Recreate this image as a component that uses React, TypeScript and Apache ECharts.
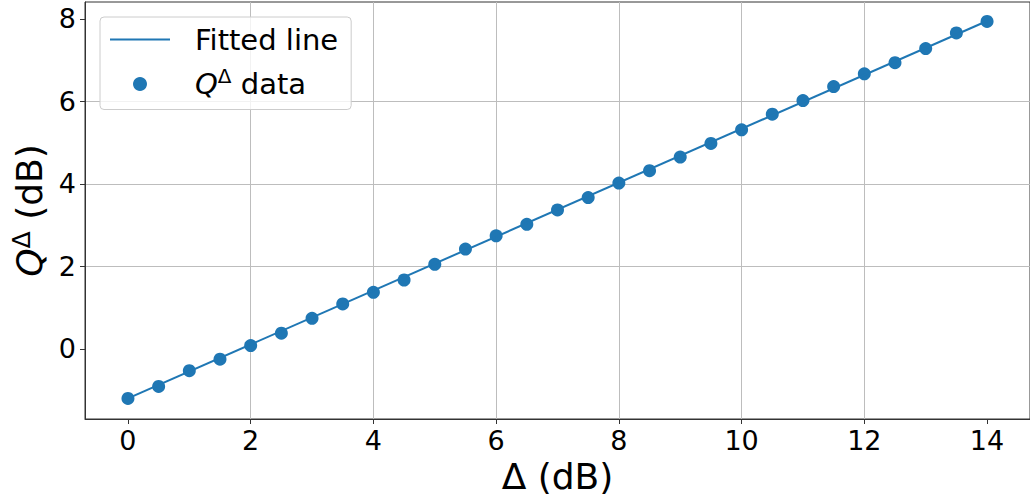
import React, { useEffect, useRef } from "react";
import * as echarts from "echarts";

const xValues = [0, 0.5, 1, 1.5, 2, 2.5, 3, 3.5, 4, 4.5, 5, 5.5, 6, 6.5, 7, 7.5, 8, 8.5, 9, 9.5, 10, 10.5, 11, 11.5, 12, 12.5, 13, 13.5, 14];
const qData = [-1.2, -0.91, -0.53, -0.25, 0.08, 0.38, 0.74, 1.09, 1.37, 1.67, 2.05, 2.42, 2.74, 3.02, 3.37, 3.67, 4.02, 4.32, 4.65, 4.98, 5.31, 5.69, 6.02, 6.36, 6.67, 6.94, 7.28, 7.66, 7.94];
const fitX = [0, 14];
const fitY = [-1.2, 7.95];
const xTicks = [0, 2, 4, 6, 8, 10, 12, 14];
const yTicks = [0, 2, 4, 6, 8];

const FONT = "DejaVu Sans";
const BLUE = "#1f77b4";
const FIT_NAME = "Fitted line";
const DATA_NAME = "QΔ data";

export default function App() {
  const ref = useRef<HTMLDivElement>(null);
  useEffect(() => {
    if (!ref.current) return;
    const chart = echarts.init(ref.current, null, { renderer: "svg" });
    const option: any = {
      animation: false,
      backgroundColor: "#ffffff",
      textStyle: { fontFamily: FONT },
      grid: {
        left: 85,
        top: 2,
        width: 949,
        height: 417,
        show: true,
        borderColor: "#333333",
        borderWidth: 1,
        backgroundColor: "transparent",
      },
      legend: {
        orient: "vertical",
        left: 100,
        top: 17,
        padding: [8, 13, 11, 10],
        itemWidth: 60,
        itemHeight: 14,
        itemGap: 12,
        backgroundColor: "rgba(255,255,255,0.8)",
        borderColor: "#cccccc",
        borderWidth: 1,
        borderRadius: 4,
        data: [
          { name: FIT_NAME, icon: "path://M0,0L60,0L60,2L0,2Z" },
          { name: DATA_NAME, icon: "circle" },
        ],
        formatter: (n: string) => (n === FIT_NAME ? "{n|Fitted line}" : "{i|Q}{s|Δ}{n| data}"),
        textStyle: {
          fontFamily: FONT,
          fontSize: 29,
          color: "#000",
          padding: [0, 0, 0, 20],
          rich: {
            n: { fontFamily: FONT, fontSize: 29, lineHeight: 36, color: "#000" },
            i: { fontFamily: FONT, fontSize: 29, lineHeight: 36, fontStyle: "italic", color: "#000" },
            s: { fontFamily: FONT, fontSize: 20, lineHeight: 24, verticalAlign: "top", color: "#000" },
          },
        },
      },
      xAxis: {
        type: "value",
        min: -0.7,
        max: 14.7,
        splitNumber: 8,
        name: "Δ (dB)",
        nameLocation: "middle",
        nameGap: 39,
        nameTextStyle: { fontFamily: FONT, fontSize: 36, color: "#000" },
        axisLine: { show: true, onZero: false, lineStyle: { color: "#333333", width: 1 } },
        axisTick: { show: true, customValues: xTicks, length: 5, lineStyle: { color: "#333333", width: 1 } },
        axisLabel: {
          customValues: xTicks,
          margin: 8,
          fontFamily: FONT,
          fontSize: 27,
          color: "#000",
          formatter: (v: number) => (xTicks.includes(v) ? String(v) : ""),
        },
        splitLine: { show: true, showMinLine: false, showMaxLine: false, lineStyle: { color: "#bdbdbd", width: 1 } },
      },
      yAxis: {
        type: "value",
        min: -1.7,
        max: 8.41,
        splitNumber: 5,
        name: "{i|Q}{s|Δ}{n| (dB)}",
        nameLocation: "middle",
        nameRotate: 90,
        nameGap: 30,
        nameTextStyle: {
          fontFamily: FONT,
          fontSize: 36,
          color: "#000",
          rich: {
            n: { fontFamily: FONT, fontSize: 36, lineHeight: 42, color: "#000" },
            i: { fontFamily: FONT, fontSize: 36, lineHeight: 42, fontStyle: "italic", color: "#000" },
            s: { fontFamily: FONT, fontSize: 25, lineHeight: 18, verticalAlign: "top", color: "#000" },
          },
        },
        axisLine: { show: true, onZero: false, lineStyle: { color: "#333333", width: 1 } },
        axisTick: { show: true, customValues: yTicks, length: 5, lineStyle: { color: "#333333", width: 1 } },
        axisLabel: {
          customValues: yTicks,
          margin: 9,
          fontFamily: FONT,
          fontSize: 27,
          color: "#000",
          formatter: (v: number) => (yTicks.includes(v) ? String(v) : ""),
        },
        splitLine: { show: true, showMinLine: false, showMaxLine: false, lineStyle: { color: "#bdbdbd", width: 1 } },
      },
      series: [
        {
          name: FIT_NAME,
          type: "line",
          data: fitX.map((x, i) => [x, fitY[i]]),
          symbol: "none",
          showSymbol: false,
          lineStyle: { color: BLUE, width: 2 },
          itemStyle: { color: BLUE },
          z: 3,
        },
        {
          name: DATA_NAME,
          type: "scatter",
          data: xValues.map((x, i) => [x, qData[i]]),
          symbol: "circle",
          symbolSize: 13,
          itemStyle: { color: BLUE, opacity: 1 },
          z: 2,
        },
      ],
    };
    chart.setOption(option);
    return () => chart.dispose();
  }, []);
  return (
    <div
      ref={ref}
      style={{ position: "fixed", left: 0, top: 0, width: 1030, height: 500, background: "#fff" }}
    />
  );
}
